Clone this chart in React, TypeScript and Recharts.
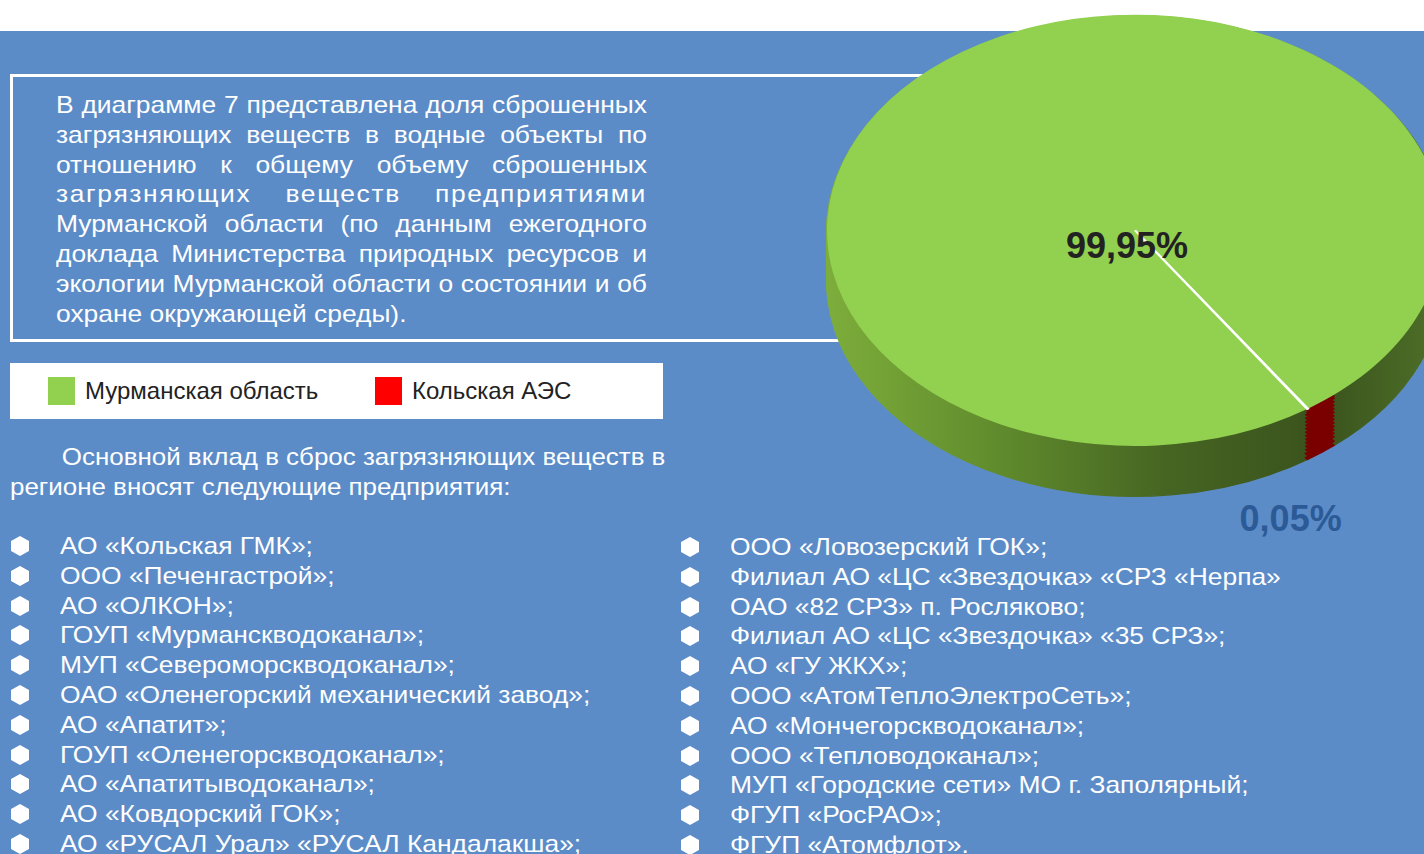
import React from "react";
import { PieChart, Pie, Cell } from "recharts";

// shares of pollutant discharge, %
const sliceNames = ["Мурманская область", "Кольская АЭС"];
const sliceValues = [99.95, 0.05];
const sliceLabels = ["99,95%", "0,05%"];
const legendOrder = ["Мурманская область", "Кольская АЭС"];

const introLines = [
  "В диаграмме 7 представлена доля сброшенных",
  "загрязняющих веществ в водные объекты по",
  "отношению к общему объему сброшенных",
  "загрязняющих веществ предприятиями",
  "Мурманской области (по данным ежегодного",
  "доклада Министерства природных ресурсов и",
  "экологии Мурманской области о состоянии и об",
  "охране окружающей среды).",
];

const leadLines = [
  "Основной вклад в сброс загрязняющих веществ в",
  "регионе вносят следующие предприятия:",
];

const leftList = [
  "АО «Кольская ГМК»;",
  "ООО «Печенгастрой»;",
  "АО «ОЛКОН»;",
  "ГОУП «Мурманскводоканал»;",
  "МУП «Североморскводоканал»;",
  "ОАО «Оленегорский механический завод»;",
  "АО «Апатит»;",
  "ГОУП «Оленегорскводоканал»;",
  "АО «Апатитыводоканал»;",
  "АО «Ковдорский ГОК»;",
  "АО «РУСАЛ Урал» «РУСАЛ Кандалакша»;",
];

const rightList = [
  "ООО «Ловозерский ГОК»;",
  "Филиал АО «ЦС «Звездочка» «СРЗ «Нерпа»",
  "ОАО «82 СРЗ» п. Росляково;",
  "Филиал АО «ЦС «Звездочка» «35 СРЗ»;",
  "АО «ГУ ЖКХ»;",
  "ООО «АтомТеплоЭлектроСеть»;",
  "АО «Мончегорскводоканал»;",
  "ООО «Тепловодоканал»;",
  "МУП «Городские сети» МО г. Заполярный;",
  "ФГУП «РосРАО»;",
  "ФГУП «Атомфлот».",
];

const pieData = sliceNames.map((name, i) => ({ name, value: sliceValues[i], label: sliceLabels[i] }));

const colors = {
  bg: "#5b8cc8",
  green: "#92d050",
  red: "#ff0000",
  redSide: "#7a0000",
  darkText: "#222222",
  blueText: "#2c5a96",
};
const legendColors: Record<string, string> = {
  "Мурманская область": colors.green,
  "Кольская АЭС": colors.red,
};

// pseudo 3D pie: circle squashed with scaleY, side built from stacked pies
const SQUASH = 0.7;
const CX = 335;
const CY = 329;
const R = 308;
const START = -55.82; // small slice ends at -56deg (lower right)
const SIDE_START = -49.8; // side wall: small slice widened with minAngle
const sideOffsets = [72, 66, 60, 55, 50, 45, 40, 35, 30, 25, 20, 15, 10, 5, 2];

const font = "'Liberation Sans', Arial, Helvetica, sans-serif";
const STRETCH = 1.1; // the scanned page is a bit wider than plain Arial
const RAD = Math.PI / 180;

const renderLabel = (props: any) => {
  const { cx, cy, midAngle, outerRadius, index } = props;
  let x = cx - 8;
  let y = cy + 15 / SQUASH;
  let fill = colors.darkText;
  if (index === 1) {
    const rimX = cx + outerRadius * Math.cos(-midAngle * RAD);
    const rimY = cy + outerRadius * Math.sin(-midAngle * RAD);
    x = rimX - 17;
    y = rimY + 156;
    fill = colors.blueText;
  }
  return (
    <text
      key={`lbl-${index}`}
      x={0}
      y={0}
      transform={`translate(${x} ${y}) scale(1 ${1 / SQUASH})`}
      textAnchor="middle"
      dominantBaseline="central"
      fontFamily={font}
      fontSize={36}
      fontWeight={700}
      fill={fill}
    >
      {pieData[index].label}
    </text>
  );
};

const Hex = ({ cx, cy }: { cx: number; cy: number }) => (
  <svg width={22} height={22} style={{ position: "absolute", left: cx - 11, top: cy - 11 }}>
    <polygon points="11,1 20,6 20,16 11,21 2,16 2,6" fill="#fff" />
  </svg>
);

const BulletList = ({ items, bulletX, textX, top }: { items: string[]; bulletX: number; textX: number; top: number }) => (
  <>
    {items.map((t, i) => {
      const cy = top + i * 29.8;
      return (
        <React.Fragment key={t}>
          <Hex cx={bulletX} cy={cy} />
          <div
            style={{
              position: "absolute",
              left: textX,
              top: cy - 15,
              height: 30,
              lineHeight: "30px",
              fontSize: 24,
              color: "#fff",
              whiteSpace: "nowrap",
              transform: `scaleX(${STRETCH})`,
              transformOrigin: "left center",
            }}
          >
            {t}
          </div>
        </React.Fragment>
      );
    })}
  </>
);

export default function App() {
  return (
    <div
      style={{
        position: "fixed",
        left: 0,
        top: 0,
        width: 1424,
        height: 854,
        overflow: "hidden",
        background: colors.bg,
        fontFamily: font,
      }}
    >
      <div style={{ position: "absolute", left: 0, top: 0, width: 1424, height: 31, background: "#fff" }} />

      <div
        style={{
          position: "absolute",
          left: 10,
          top: 74,
          width: 1100,
          height: 268,
          border: "3px solid #fff",
          boxSizing: "border-box",
        }}
      />
      <div
        style={{
          position: "absolute",
          left: 56,
          top: 90,
          width: 591 / STRETCH,
          transform: `scaleX(${STRETCH})`,
          transformOrigin: "left top",
        }}
      >
        {introLines.map((l, i) => (
          <div
            key={i}
            style={{
              fontSize: 24,
              lineHeight: "29.8px",
              height: 29.8,
              color: "#fff",
              whiteSpace: "nowrap",
              letterSpacing: i === 3 ? 1.5 : 0,
              textAlign: "justify",
              textAlignLast: i === introLines.length - 1 ? "left" : "justify",
            }}
          >
            {l}
          </div>
        ))}
      </div>

      <div style={{ position: "absolute", left: 10, top: 363, width: 653, height: 56, background: "#fff" }}>
        {legendOrder.map((name, i) => (
          <div
            key={name}
            style={{
              position: "absolute",
              left: i === 0 ? 38 : 365,
              top: 14,
              display: "flex",
              alignItems: "center",
              height: 28,
            }}
          >
            <div style={{ width: 27, height: 28, background: legendColors[name] }} />
            <span style={{ marginLeft: 10, fontSize: 24, color: colors.darkText, whiteSpace: "nowrap" }}>{name}</span>
          </div>
        ))}
      </div>

      <div
        style={{
          position: "absolute",
          left: 10,
          top: 442,
          transform: "scaleX(1.08)",
          transformOrigin: "left top",
        }}
      >
        {leadLines.map((l, i) => (
          <div
            key={i}
            style={{
              fontSize: 24,
              lineHeight: "30px",
              color: "#fff",
              whiteSpace: "nowrap",
              paddingLeft: i === 0 ? 48 : 0,
            }}
          >
            {l}
          </div>
        ))}
      </div>

      <BulletList items={leftList} bulletX={20} textX={60} top={546} />
      <BulletList items={rightList} bulletX={690} textX={730} top={547} />

      <div
        style={{
          position: "absolute",
          left: 800,
          top: 0,
          width: 700,
          height: 820,
          transform: `scaleY(${SQUASH})`,
          transformOrigin: "top left",
        }}
      >
        <PieChart width={700} height={820} margin={{ top: 0, right: 0, bottom: 0, left: 0 }}>
          <defs>
            <linearGradient id="sideGrad" x1="0" y1="0" x2="1" y2="0">
              <stop offset="0%" stopColor="#7dad3b" />
              <stop offset="25%" stopColor="#638f2e" />
              <stop offset="55%" stopColor="#466522" />
              <stop offset="80%" stopColor="#3a531d" />
              <stop offset="100%" stopColor="#4e7028" />
            </linearGradient>
          </defs>
          {sideOffsets.map((off) => (
            <Pie
              key={`side-${off}`}
              data={pieData}
              dataKey="value"
              nameKey="name"
              cx={CX}
              cy={CY + off}
              outerRadius={R}
              startAngle={SIDE_START}
              endAngle={SIDE_START + 360}
              minAngle={6}
              isAnimationActive={false}
            >
              <Cell fill="url(#sideGrad)" stroke="url(#sideGrad)" strokeWidth={2} />
              <Cell fill={colors.redSide} stroke={colors.redSide} strokeWidth={2} />
            </Pie>
          ))}
          <Pie
            data={pieData}
            dataKey="value"
            nameKey="name"
            cx={CX}
            cy={CY}
            outerRadius={R}
            startAngle={START}
            endAngle={START + 360}
            isAnimationActive={false}
            label={renderLabel}
            labelLine={false}
          >
            <Cell fill={colors.green} stroke="none" />
            <Cell fill={colors.redSide} stroke="#ffffff" strokeWidth={2.5} />
          </Pie>
        </PieChart>
      </div>
    </div>
  );
}
